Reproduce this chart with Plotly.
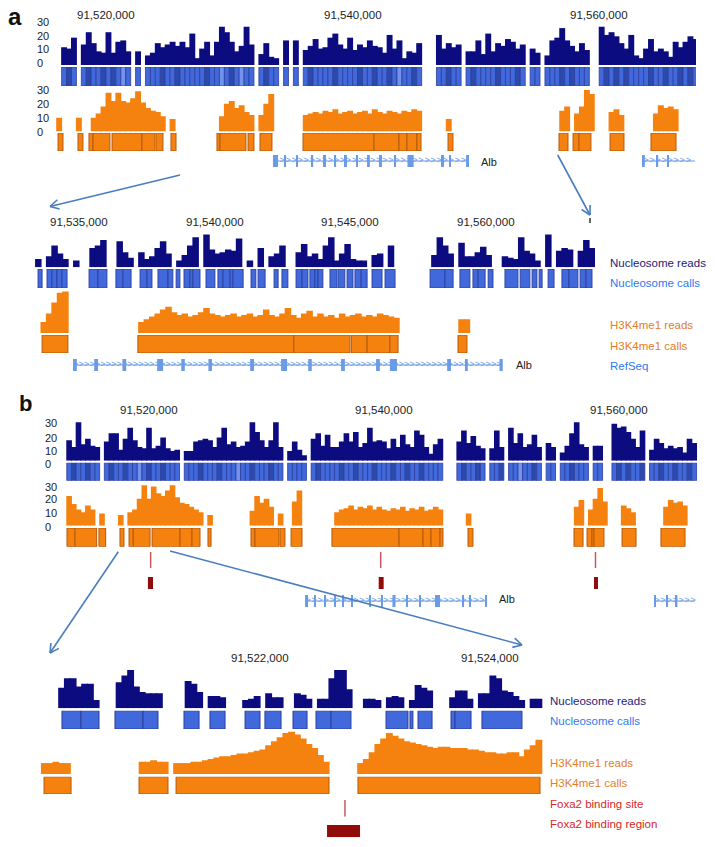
import math
import numpy as np
import plotly.graph_objects as go

# --------------------------------------------------------------
#  DATA  (positions in kb on the chromosome, reads in tag counts)
# --------------------------------------------------------------

# panel a, overview (400 bp bins)
A_START, A_BIN = 91516.0, 0.4
a_nuc_reads = [0, 13, 12, 20, 0, 15, 24, 16, 10, 9,
               24, 9, 17, 18, 10, 0, 10, 0, 7, 9,
               16, 13, 15, 17, 14, 17, 13, 23, 5, 12,
               17, 7, 17, 28, 24, 17, 10, 14, 28, 15,
               0, 8, 16, 6, 5, 0, 18, 0, 18, 0,
               11, 14, 19, 12, 13, 20, 23, 15, 12, 20,
               11, 15, 13, 18, 14, 13, 9, 22, 12, 18,
               5, 10, 9, 16, 0, 0, 0, 22, 12, 16,
               13, 15, 0, 10, 10, 18, 8, 23, 10, 16,
               14, 19, 17, 12, 15, 0, 12, 9, 0, 7,
               18, 20, 27, 18, 14, 10, 16, 11, 0, 0,
               28, 22, 24, 21, 16, 12, 22, 7, 5, 12,
               19, 10, 12, 10, 6, 17, 13, 17, 21, 19]
a_nuc_calls = [0, 1, 2, 1, 0, 1, 2, 1, 1, 2,
               1, 2, 1, 3, 1, 0, 1, 0, 1, 1,
               1, 2, 1, 1, 2, 1, 1, 1, 1, 1,
               2, 1, 1, 3, 1, 2, 1, 3, 1, 1,
               0, 1, 2, 1, 1, 0, 1, 0, 1, 0,
               1, 2, 1, 1, 1, 1, 2, 1, 1, 1,
               1, 2, 1, 1, 2, 1, 1, 2, 1, 3,
               1, 1, 2, 1, 0, 0, 0, 1, 1, 2,
               1, 1, 0, 1, 2, 1, 1, 1, 1, 2,
               1, 1, 1, 2, 1, 0, 1, 1, 0, 1,
               1, 1, 2, 1, 2, 1, 1, 1, 0, 0,
               1, 2, 1, 2, 1, 2, 1, 1, 1, 1,
               2, 1, 1, 2, 1, 1, 2, 1, 2, 1]
a_k4_reads = [10, 0, 0, 0, 10, 0, 0, 10, 13, 18,
              28, 22, 28, 22, 21, 24, 29, 21, 17, 15,
              14, 11, 0, 9, 0, 0, 0, 0, 0, 0,
              0, 0, 0, 11, 20, 22, 17, 19, 14, 12,
              0, 12, 20, 27, 0, 0, 0, 0, 0, 0,
              12, 13, 14, 13, 15, 14, 16, 13, 14, 15,
              13, 14, 15, 13, 16, 14, 13, 15, 14, 13,
              15, 14, 16, 15, 0, 0, 0, 0, 0, 9,
              0, 0, 0, 0, 0, 0, 0, 0, 0, 0,
              0, 0, 0, 0, 0, 0, 0, 0, 0, 0,
              0, 0, 15, 18, 0, 13, 18, 30, 27, 0,
              0, 0, 14, 16, 12, 0, 0, 0, 0, 0,
              0, 13, 19, 17, 18, 16, 0, 0, 0, 0]
a_k4_calls = [(91516.11, 91516.51), (91517.73, 91518.13), (91518.62, 91518.95),
              (91518.95, 91520.32), (91520.49, 91522.92), (91522.92, 91523.97),
              (91524.06, 91524.62), (91525.27, 91525.68), (91529.00, 91529.25),
              (91529.25, 91531.35), (91531.52, 91532.00), (91532.49, 91533.46),
              (91535.98, 91541.74), (91541.74, 91543.76), (91543.76, 91544.41),
              (91544.41, 91545.22), (91545.22, 91545.55), (91547.74, 91548.14),
              (91556.74, 91557.47), (91557.88, 91558.36), (91558.36, 91559.33),
              (91560.88, 91562.01), (91564.20, 91566.23)]
a_alb = (91533.54, 91549.44)
a_alb_exons = [(91533.54, 91533.95), (91534.45, 91534.60), (91535.42, 91535.57),
               (91536.64, 91536.80), (91537.68, 91537.84), (91538.50, 91538.66),
               (91539.38, 91539.54), (91540.28, 91540.44), (91541.17, 91541.40),
               (91542.22, 91542.38), (91543.36, 91543.52), (91544.45, 91544.95),
               (91547.25, 91547.41), (91547.82, 91547.98), (91549.20, 91549.44)]
a_gene2 = (91563.55, 91567.77)
a_gene2_exons = [(91563.55, 91563.70), (91564.62, 91564.78), (91565.50, 91565.62)]
a_ticks = [91520, 91540, 91560]
a_tick_text = ["91,520,000", "91,540,000", "91,560,000"]

# panel a, zoom (200 bp bins)
AZ_START, AZ_BIN = 91533.4, 0.2
az_nuc_reads = [6, 0, 8, 16, 10, 6, 0, 5, 0, 0,
                14, 16, 20, 0, 0, 19, 11, 7, 0, 11,
                6, 8, 14, 19, 10, 0, 5, 9, 16, 22,
                0, 24, 13, 10, 11, 13, 12, 21, 0, 5,
                0, 14, 0, 8, 10, 16, 0, 0, 11, 17,
                8, 10, 6, 16, 22, 5, 10, 17, 6, 5,
                5, 0, 9, 10, 0, 16, 0, 0, 0, 0,
                0, 0, 0, 9, 22, 16, 10, 0, 18, 8,
                8, 11, 15, 9, 0, 0, 8, 7, 6, 22,
                12, 10, 5, 0, 24, 0, 12, 14, 13, 0,
                12, 20, 14, 0]
az_nuc_calls = [(91533.49, 91533.64),
                (91533.82, 91534.00), (91534.00, 91534.19), (91534.19, 91534.37), (91534.37, 91534.56),
                (91535.37, 91535.70), (91535.70, 91536.03),
                (91536.36, 91536.62), (91536.62, 91536.92),
                (91537.25, 91537.51), (91537.51, 91537.69),
                (91537.91, 91538.28), (91538.28, 91538.46),
                (91538.58, 91538.72),
                (91538.87, 91539.09), (91539.09, 91539.20), (91539.20, 91539.46),
                (91539.68, 91540.01),
                (91540.12, 91540.31), (91540.31, 91540.57), (91540.57, 91540.68), (91540.68, 91541.05),
                (91541.34, 91541.52), (91541.60, 91541.86), (91542.19, 91542.34), (91542.48, 91542.70),
                (91543.00, 91543.22), (91543.22, 91543.44),
                (91543.51, 91543.70), (91543.70, 91543.81), (91543.81, 91543.99),
                (91544.25, 91544.51), (91544.55, 91544.80), (91544.88, 91545.10),
                (91545.17, 91545.40), (91545.40, 91545.62),
                (91545.80, 91546.17), (91546.28, 91546.65),
                (91547.94, 91548.49), (91548.49, 91548.79), (91549.04, 91549.41),
                (91549.52, 91549.71), (91549.71, 91549.97), (91550.08, 91550.26),
                (91550.70, 91551.18), (91551.26, 91551.62), (91551.70, 91551.88),
                (91551.96, 91552.07), (91552.29, 91552.51),
                (91552.80, 91553.06), (91553.06, 91553.39),
                (91553.47, 91553.69), (91553.69, 91553.91)]
az_k4_reads = [0, 8, 14, 22, 29, 30, 0, 0, 0, 0,
               0, 0, 0, 0, 0, 0, 0, 0, 0, 8,
               10, 12, 14, 17, 19, 15, 13, 14, 12, 13,
               15, 18, 14, 13, 12, 13, 14, 12, 13, 14,
               12, 13, 17, 13, 12, 14, 18, 13, 11, 14,
               16, 12, 14, 12, 13, 11, 14, 12, 13, 14,
               12, 13, 12, 14, 13, 12, 11, 0, 0, 0,
               0, 0, 0, 0, 0, 0, 0, 0, 10, 10,
               0, 0, 0, 0, 0, 0, 0, 0, 0, 0,
               0, 0, 0, 0, 0, 0, 0, 0, 0, 0,
               0, 0, 0, 0]
az_k4_calls = [(91533.64, 91534.59), (91537.17, 91542.92), (91542.92, 91544.99),
               (91545.04, 91545.62), (91545.62, 91546.46), (91546.46, 91546.76),
               (91548.97, 91549.30)]
az_alb = (91534.78, 91550.59)
az_alb_exons = [(91534.78, 91534.92), (91535.56, 91535.70), (91536.60, 91536.74),
                (91537.88, 91538.10), (91538.77, 91538.90), (91539.77, 91539.90),
                (91541.31, 91541.45), (91542.45, 91542.67), (91543.45, 91543.58),
                (91544.66, 91544.80), (91545.95, 91546.09), (91546.46, 91546.72),
                (91548.57, 91548.71), (91549.26, 91549.33), (91550.50, 91550.62)]
az_ticks = [91535, 91540, 91545, 91550]
az_tick_text = ["91,535,000", "91,540,000", "91,545,000", "91,560,000"]

# panel b, overview (400 bp bins)
B_START, B_BIN = 91513.0, 0.4
b_nuc_reads = [15, 10, 28, 12, 16, 11, 10, 0, 14, 20,
               20, 8, 16, 24, 15, 10, 9, 24, 9, 11,
               17, 9, 7, 8, 0, 7, 7, 14, 15, 16,
               15, 10, 17, 24, 12, 14, 10, 11, 14, 28,
               21, 15, 10, 15, 28, 10, 0, 7, 14, 8,
               4, 0, 16, 20, 11, 19, 10, 10, 14, 20,
               14, 21, 10, 13, 24, 14, 15, 14, 9, 16,
               10, 19, 12, 10, 22, 19, 10, 5, 12, 16,
               0, 0, 0, 14, 22, 13, 18, 11, 9, 0,
               9, 22, 10, 0, 24, 13, 20, 10, 12, 19,
               10, 0, 13, 10, 0, 6, 11, 20, 28, 12,
               10, 0, 11, 11, 0, 0, 27, 24, 25, 21,
               16, 10, 22, 0, 8, 16, 13, 9, 11, 9,
               10, 6, 16, 13]
b_nuc_calls = [1, 2, 1, 1, 2, 1, 1, 0, 1, 2,
               1, 1, 2, 1, 1, 3, 1, 2, 1, 1,
               2, 1, 1, 1, 0, 1, 1, 1, 2, 1,
               1, 1, 2, 1, 1, 1, 3, 1, 1, 2,
               1, 1, 1, 2, 1, 1, 0, 1, 1, 1,
               1, 0, 1, 2, 1, 1, 1, 1, 2, 1,
               1, 2, 1, 1, 1, 2, 1, 1, 1, 2,
               1, 1, 2, 1, 1, 2, 1, 1, 1, 1,
               0, 0, 0, 1, 2, 1, 1, 2, 1, 0,
               1, 1, 2, 0, 1, 1, 3, 1, 1, 2,
               1, 0, 1, 1, 0, 1, 1, 2, 1, 1,
               1, 0, 1, 1, 0, 0, 1, 2, 1, 2,
               1, 1, 2, 0, 1, 1, 2, 1, 1, 2,
               1, 1, 2, 1]
b_k4_reads = [22, 16, 12, 10, 15, 12, 0, 9, 0, 0,
              0, 8, 0, 10, 12, 20, 30, 20, 29, 24,
              22, 26, 30, 21, 17, 16, 14, 12, 10, 0,
              8, 0, 0, 0, 0, 0, 0, 0, 0, 11,
              22, 17, 20, 14, 0, 9, 0, 0, 18, 26,
              0, 0, 0, 0, 0, 0, 0, 10, 12, 13,
              15, 12, 14, 13, 15, 12, 14, 12, 11, 13,
              12, 14, 11, 13, 12, 14, 11, 12, 14, 12,
              0, 0, 0, 0, 0, 9, 0, 0, 0, 0,
              0, 0, 0, 0, 0, 0, 0, 0, 0, 0,
              0, 0, 0, 0, 0, 0, 0, 0, 14, 19,
              0, 12, 20, 28, 18, 0, 0, 0, 15, 13,
              10, 0, 0, 0, 0, 0, 0, 14, 19, 17,
              18, 15, 0, 0]
b_k4_calls = [(91513.02, 91513.70), (91513.70, 91515.55), (91515.74, 91516.31),
              (91517.53, 91517.87), (91518.30, 91518.66), (91518.66, 91520.09),
              (91520.26, 91522.64), (91522.64, 91523.66), (91523.66, 91524.34),
              (91525.02, 91525.28), (91528.68, 91529.02), (91529.02, 91531.06),
              (91531.15, 91531.57), (91532.09, 91533.02), (91535.57, 91541.28),
              (91541.28, 91543.32), (91543.32, 91544.00), (91544.00, 91544.77),
              (91544.77, 91545.02), (91547.15, 91547.57), (91556.17, 91556.94),
              (91557.28, 91557.70), (91557.70, 91557.87), (91557.87, 91558.72),
              (91560.26, 91561.45), (91563.57, 91565.62)]
b_foxa2_sites = [91520.14, 91539.72, 91558.00]
b_foxa2_regions = [(91519.91, 91520.34), (91539.55, 91539.97), (91557.87, 91558.21)]
b_alb = (91533.28, 91548.77)
b_alb_exons = [(91533.28, 91533.53), (91534.06, 91534.20), (91534.91, 91535.05),
               (91535.76, 91535.90), (91536.44, 91536.58), (91537.21, 91537.35),
               (91538.74, 91538.88), (91539.76, 91539.90), (91540.72, 91540.98),
               (91541.89, 91542.03), (91542.99, 91543.13), (91544.34, 91544.77),
               (91546.65, 91546.79), (91547.25, 91547.39), (91548.63, 91548.77)]
b_gene2 = (91563.0, 91566.45)
b_gene2_exons = [(91563.0, 91563.15), (91564.05, 91564.17), (91564.85, 91564.97)]
b_ticks = [91520, 91540, 91560]
b_tick_text = ["91,520,000", "91,540,000", "91,560,000"]

# panel b, zoom (50 bp bins)
BZ_START, BZ_BIN = 91520.1, 0.05
bz_nuc_reads = [0, 0, 0, 15, 22, 22, 16, 18, 18, 6,
                0, 0, 0, 19, 24, 28, 16, 12, 11, 11,
                11, 0, 0, 0, 0, 20, 18, 12, 0, 9,
                9, 8, 0, 0, 0, 6, 7, 9, 0, 11,
                8, 8, 0, 0, 11, 10, 7, 0, 7, 7,
                22, 28, 28, 14, 0, 0, 7, 7, 6, 0,
                8, 9, 8, 0, 6, 17, 15, 13, 0, 0,
                0, 8, 13, 13, 7, 0, 11, 11, 24, 22,
                13, 12, 9, 6, 0, 7, 7, 0]
bz_nuc_calls = [(91520.278, 91520.443), (91520.443, 91520.600), (91520.739, 91520.983),
                (91520.983, 91521.113), (91521.339, 91521.470), (91521.565, 91521.696),
                (91521.870, 91522.000), (91522.043, 91522.183), (91522.287, 91522.409),
                (91522.487, 91522.617), (91522.617, 91522.791), (91523.096, 91523.287),
                (91523.304, 91523.330), (91523.374, 91523.496), (91523.661, 91523.696),
                (91523.696, 91523.835), (91523.930, 91524.278)]
bz_k4_reads = [8, 8, 9, 8, 8, 0, 0, 0, 0, 0,
               0, 0, 0, 0, 0, 0, 0, 9, 9, 10,
               9, 9, 0, 8, 8, 8, 9, 9, 10, 11,
               12, 13, 13, 14, 15, 15, 16, 17, 18, 21,
               24, 27, 30, 31, 29, 26, 22, 19, 14, 9,
               0, 0, 0, 0, 0, 8, 11, 16, 22, 26,
               30, 28, 26, 24, 23, 22, 21, 20, 19, 20,
               20, 19, 19, 19, 18, 18, 17, 16, 16, 15,
               15, 16, 16, 13, 18, 21, 25, 0]
bz_k4_calls = [(91520.122, 91520.357), (91520.948, 91521.200),
               (91521.270, 91522.600), (91522.852, 91524.435)]
bz_foxa2_sites = [91522.739]
bz_foxa2_regions = [(91522.583, 91522.870)]
bz_ticks = [91522, 91524]
bz_tick_text = ["91,522,000", "91,524,000"]

# --------------------------------------------------------------
#  STYLE
# --------------------------------------------------------------
W, H = 715, 847
FONT = "Liberation Sans, Arial, sans-serif"
NAVY = "#0c0c80"
CALL_SHADES = {1: "#4169dc", 2: "#2c49ad", 3: "#7393ec"}
CALL_EDGE = "#2b3f9c"
ORANGE = "#f5820f"
ORANGE_EDGE = "#b5590c"
REFSEQ = "#6b9be6"
SITE = "#c9585c"
REGION = "#920b0b"
ARROW = "#4a7dbe"

fig = go.Figure()
lay = {}
shapes = []
notes = []
counts = {"x": 0, "y": 0}


def add_x(left, right, p0, g0, ppk):
    # px position p0 corresponds to g0 kb, ppk pixels per kb
    counts["x"] += 1
    n = counts["x"]
    lay["xaxis" if n == 1 else f"xaxis{n}"] = dict(
        domain=[left / W, right / W],
        range=[g0 + (left - p0) / ppk, g0 + (right - p0) / ppk],
        visible=False, fixedrange=True)
    return "x" if n == 1 else f"x{n}"


def add_y(xr, top, bottom, rng=(0, 1)):
    counts["y"] += 1
    n = counts["y"]
    lay["yaxis" if n == 1 else f"yaxis{n}"] = dict(
        domain=[1 - bottom / H, 1 - top / H], range=list(rng),
        anchor=xr, visible=False, fixedrange=True)
    return "y" if n == 1 else f"y{n}"


def reads(xr, yr, start, step, vals, color):
    # bars slightly wider than the bin so neighbours overlap (no white seams)
    xs = [start + step * (i + 0.5) for i in range(len(vals))]
    fig.add_trace(go.Bar(x=xs, y=vals, width=step * 1.2, xaxis=xr, yaxis=yr,
                         marker=dict(color=color, line=dict(width=0)),
                         hoverinfo="skip"))


def call_bins(xr, yr, start, step, flags):
    xs, cols = [], []
    for i, f in enumerate(flags):
        if f:
            xs.append(start + step * (i + 0.5))
            cols.append(CALL_SHADES[f])
    fig.add_trace(go.Bar(x=xs, y=[1] * len(xs), width=step, xaxis=xr, yaxis=yr,
                         marker=dict(color=cols, line=dict(color=CALL_EDGE, width=0.8)),
                         hoverinfo="skip"))


def boxes(xr, yr, spans, color, edge, lw=1.0):
    fig.add_trace(go.Bar(x=[(s + e) / 2 for s, e in spans], y=[1] * len(spans),
                         width=[e - s for s, e in spans], xaxis=xr, yaxis=yr,
                         marker=dict(color=color, line=dict(color=edge, width=lw)),
                         hoverinfo="skip"))


def gene(xr, yr, span, exons, step):
    s, e = span
    fig.add_trace(go.Scatter(x=[s, e], y=[0.5, 0.5], mode="lines", xaxis=xr, yaxis=yr,
                             line=dict(color=REFSEQ, width=1), hoverinfo="skip"))
    ch = np.arange(s + step / 2, e - step / 4, step)
    fig.add_trace(go.Scatter(x=ch, y=[0.5] * len(ch), mode="text", text=[">"] * len(ch),
                             textfont=dict(color=REFSEQ, size=9, family=FONT),
                             xaxis=xr, yaxis=yr, hoverinfo="skip"))
    boxes(xr, yr, exons, REFSEQ, REFSEQ, 0)


def sites(xr, yr, pos):
    xs, ys = [], []
    for p in pos:
        xs += [p, p, None]
        ys += [0, 1, None]
    fig.add_trace(go.Scatter(x=xs, y=ys, mode="lines", xaxis=xr, yaxis=yr,
                             line=dict(color=SITE, width=1.5), hoverinfo="skip"))


def note(x, y, s, color="#222222", size=11.5, anchor="center", bold=False, xref="paper"):
    notes.append(dict(x=x / W if xref == "paper" else x, xref=xref,
                      y=1 - y / H, yref="paper", text=f"<b>{s}</b>" if bold else s,
                      showarrow=False, xanchor=anchor, yanchor="middle",
                      font=dict(family=FONT, size=size, color=color)))


def ticks(xr, kb, labels, y):
    for k, t in zip(kb, labels):
        note(k, y, t, xref=xr)


def ylabels(x, rows):
    for y, t in rows:
        note(x, y, t, size=11, anchor="left")


def arrow(x0, y0, x1, y1, head=10):
    L = math.hypot(x1 - x0, y1 - y0)
    ux, uy = (x1 - x0) / L, (y1 - y0) / L
    segs = [(x0, y0, x1, y1)]
    for a in (0.5, -0.5):
        c, s = math.cos(a), math.sin(a)
        segs.append((x1, y1, x1 - head * (ux * c - uy * s), y1 - head * (ux * s + uy * c)))
    for p, q, r, t in segs:
        shapes.append(dict(type="line", xref="paper", yref="paper",
                           x0=p / W, y0=1 - q / H, x1=r / W, y1=1 - t / H,
                           line=dict(color=ARROW, width=1.6)))


# --------------------------------------------------------------
#  PANEL a - overview
# --------------------------------------------------------------
xa = add_x(56, 696, 106, 91520, 12.33)
reads(xa, add_y(xa, 24, 65, (0, 30)), A_START, A_BIN, a_nuc_reads, NAVY)
call_bins(xa, add_y(xa, 67, 86), A_START, A_BIN, a_nuc_calls)
reads(xa, add_y(xa, 87.2, 131.5, (0, 32)), A_START, A_BIN, a_k4_reads, ORANGE)
boxes(xa, add_y(xa, 133, 151), a_k4_calls, ORANGE, ORANGE_EDGE)
ya_gene = add_y(xa, 155, 167)
gene(xa, ya_gene, a_alb, a_alb_exons, 0.49)
gene(xa, ya_gene, a_gene2, a_gene2_exons, 0.49)
ticks(xa, a_ticks, a_tick_text, 15)
ylabels(35, [(21.7, "30"), (35.7, "20"), (49.3, "10"), (63.3, "0"),
             (90, "30"), (104, "20"), (118, "10"), (131.7, "0")])
note(489, 161.7, "Alb", size=11)
note(15, 16, "a", size=24, bold=True, color="#111111")

# --------------------------------------------------------------
#  PANEL a - zoom
# --------------------------------------------------------------
xz = add_x(30, 605, 79, 91535, 27.13)
reads(xz, add_y(xz, 226.2, 267.3, (0, 30)), AZ_START, AZ_BIN, az_nuc_reads, NAVY)
boxes(xz, add_y(xz, 269, 288), az_nuc_calls, CALL_SHADES[1], CALL_EDGE, 0.9)
reads(xz, add_y(xz, 288.7, 333, (0, 32)), AZ_START, AZ_BIN, az_k4_reads, ORANGE)
boxes(xz, add_y(xz, 335, 353), az_k4_calls, ORANGE, ORANGE_EDGE)
gene(xz, add_y(xz, 359, 371), az_alb, az_alb_exons, 0.2)
ticks(xz, az_ticks, az_tick_text, 221.7)
note(523.5, 365, "Alb", size=11)

for y, t, c in [(263, "Nucleosome reads", "#1b1b78"), (283, "Nucleosome calls", "#2f78ee"),
                (325, "H3K4me1 reads", "#e57d25"), (345.7, "H3K4me1 calls", "#e57d25"),
                (365.5, "RefSeq", "#2f78ee")]:
    note(608, y, t, color=c, anchor="left")

arrow(180, 175, 50, 206.5)
arrow(557.7, 155, 590, 215)
shapes.append(dict(type="line", xref="paper", yref="paper", x0=590 / W, x1=590 / W,
                   y0=1 - 218 / H, y1=1 - 223 / H, line=dict(color="#333333", width=1.5)))

# --------------------------------------------------------------
#  PANEL b - overview
# --------------------------------------------------------------
xb = add_x(60, 700, 149, 91520, 11.75)
reads(xb, add_y(xb, 419.6, 460.7, (0, 30)), B_START, B_BIN, b_nuc_reads, NAVY)
call_bins(xb, add_y(xb, 462.7, 480.7), B_START, B_BIN, b_nuc_calls)
reads(xb, add_y(xb, 482.5, 525.7, (0, 32)), B_START, B_BIN, b_k4_reads, ORANGE)
boxes(xb, add_y(xb, 528, 546.7), b_k4_calls, ORANGE, ORANGE_EDGE)
sites(xb, add_y(xb, 552, 568), b_foxa2_sites)
boxes(xb, add_y(xb, 577, 589), b_foxa2_regions, REGION, REGION, 0)
yb_gene = add_y(xb, 595, 607)
gene(xb, yb_gene, b_alb, b_alb_exons, 0.51)
gene(xb, yb_gene, b_gene2, b_gene2_exons, 0.51)
ticks(xb, b_ticks, b_tick_text, 410)
ylabels(43, [(423.3, "30"), (437.7, "20"), (451, "10"), (464, "0"),
             (486.7, "30"), (499.3, "20"), (512.7, "10"), (526.7, "0")])
note(506.5, 599.3, "Alb", size=11)
note(25, 403, "b", size=22, bold=True, color="#111111")

# --------------------------------------------------------------
#  PANEL b - zoom
# --------------------------------------------------------------
xbz = add_x(35, 550, 260, 91522, 115)
reads(xbz, add_y(xbz, 667.3, 708.3, (0, 30)), BZ_START, BZ_BIN, bz_nuc_reads, NAVY)
boxes(xbz, add_y(xbz, 710.7, 729), bz_nuc_calls, CALL_SHADES[1], CALL_EDGE, 1)
reads(xbz, add_y(xbz, 730.3, 774, (0, 32)), BZ_START, BZ_BIN, bz_k4_reads, ORANGE)
boxes(xbz, add_y(xbz, 776.7, 794), bz_k4_calls, ORANGE, ORANGE_EDGE)
sites(xbz, add_y(xbz, 800, 816.7), bz_foxa2_sites)
boxes(xbz, add_y(xbz, 825, 837.3), bz_foxa2_regions, REGION, REGION, 0)
ticks(xbz, bz_ticks, bz_tick_text, 657.7)

for y, t, c in [(701, "Nucleosome reads", "#1b1b78"), (721, "Nucleosome calls", "#2f78ee"),
                (762.7, "H3K4me1 reads", "#e57d25"), (783, "H3K4me1 calls", "#e57d25"),
                (803.7, "Foxa2 binding site", "#d42a2a"), (824, "Foxa2 binding region", "#d42a2a")]:
    note(548, y, t, color=c, anchor="left")

arrow(118.3, 551.7, 50, 653)
arrow(170, 551, 522, 645)

# --------------------------------------------------------------
#  LAYOUT
# --------------------------------------------------------------
fig.update_layout(
    width=W, height=H, margin=dict(l=0, r=0, t=0, b=0),
    paper_bgcolor="white", plot_bgcolor="rgba(0,0,0,0)",
    barmode="overlay", showlegend=False, hovermode=False,
    annotations=notes, shapes=shapes, **lay)

# page body has a default 8px margin; drop it so the figure sits at the window corner
fig.write_html("out.html", config={"displayModeBar": False},
               post_script="document.body.style.margin='0px';")
